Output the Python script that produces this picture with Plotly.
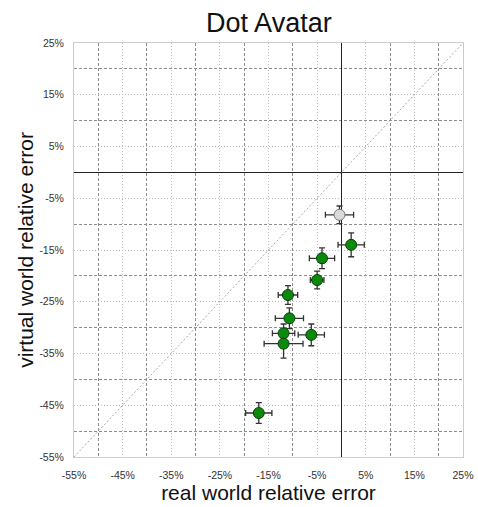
import plotly.graph_objects as go

# Data (percent)
green_x = [2.0, -4.0, -5.0, -11.0, -10.7, -11.9, -11.9, -6.2, -17.0]
green_y = [-14.0, -16.6, -20.8, -23.7, -28.2, -31.1, -33.1, -31.4, -46.5]
green_xerr = [2.7, 2.6, 1.4, 2.0, 2.9, 2.3, 4.0, 2.7, 2.7]
green_yerr = [2.3, 2.0, 1.7, 1.8, 2.0, 1.8, 2.8, 2.1, 2.0]

gray_x = [-0.4]
gray_y = [-8.2]
gray_xerr = [2.9]
gray_yerr = [1.7]

diag = [-55, 25]
tick_vals = [-55, -45, -35, -25, -15, -5, 5, 15, 25]
tick_text = [f"{v}%" for v in tick_vals]
minor_vals = [-50, -40, -30, -20, -10, 10, 20]

fig = go.Figure()

fig.add_trace(go.Scatter(
    x=diag, y=diag, mode="lines",
    line=dict(color="#a8a8a8", width=1, dash="2px,2px"),
    hoverinfo="skip", showlegend=False))

err_style = dict(color="#333333", thickness=1.3, width=3)

fig.add_trace(go.Scatter(
    x=gray_x, y=gray_y, mode="markers",
    marker=dict(color="#d9d9d9", size=11, line=dict(color="#777777", width=1)),
    error_x=dict(type="data", array=gray_xerr, **err_style),
    error_y=dict(type="data", array=gray_yerr, **err_style),
    showlegend=False))

fig.add_trace(go.Scatter(
    x=green_x, y=green_y, mode="markers",
    marker=dict(color="#0a8a0a", size=11, line=dict(color="#0b3d0b", width=1)),
    error_x=dict(type="data", array=green_xerr, **err_style),
    error_y=dict(type="data", array=green_yerr, **err_style),
    showlegend=False))

axis_common = dict(
    range=[-55, 25], automargin=False,
    tickmode="array", tickvals=tick_vals, ticktext=tick_text,
    showgrid=True, gridcolor="#bdbdbd", griddash="1px,2px", gridwidth=1,
    minor=dict(tickmode="array", tickvals=minor_vals,
               showgrid=True, gridcolor="#8c8c8c", griddash="3px,2px", gridwidth=1.2),
    zeroline=True, zerolinecolor="#222222", zerolinewidth=1.3,
    showline=True, linecolor="#cccccc", mirror=True, linewidth=1,
    ticks="outside", tickcolor="rgba(0,0,0,0)",
    tickfont=dict(family="Liberation Sans, Arial", size=10.5, color="#333333"),
    title_font=dict(family="Liberation Sans, Arial", size=21, color="#111111"),
)

fig.update_xaxes(**axis_common, ticklen=8, title_text="real world relative error", title_standoff=4)
fig.update_yaxes(**axis_common, ticklen=7, title_text="virtual world relative error", title_standoff=0)

fig.update_layout(
    width=478, height=507,
    margin=dict(l=74, r=15, t=43, b=50),
    paper_bgcolor="white", plot_bgcolor="white",
    title=dict(text="Dot Avatar", x=0.5625, xanchor="center", y=0.975, yanchor="top",
               font=dict(family="Liberation Sans, Arial", size=27, color="#111111")),
)

fig.write_html("out.html", config={"displayModeBar": False},
               post_script="document.body.style.margin='0px';")
